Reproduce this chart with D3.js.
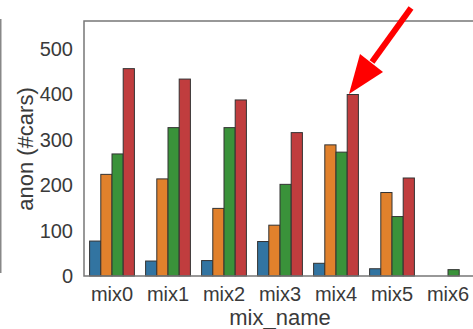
<!DOCTYPE html>
<html>
<head>
<meta charset="utf-8">
<script src="https://cdn.jsdelivr.net/npm/d3@7"></script>
<style>
  body { margin: 0; background: #fff; }
  svg { display: block; font-family: "Liberation Sans", Arial, sans-serif; }
</style>
</head>
<body>
<svg id="chart" width="473" height="329"></svg>
<script>
const mixNames = ["mix0", "mix1", "mix2", "mix3", "mix4", "mix5", "mix6"];
const series = ["s0", "s1", "s2", "s3"];
const s0 = [77, 33, 34, 76, 28, 16, 0];
const s1 = [224, 214, 149, 112, 289, 184, 0];
const s2 = [269, 327, 327, 202, 273, 131, 14];
const s3 = [457, 434, 388, 316, 400, 216, 0];
const yTicks = [0, 100, 200, 300, 400, 500];
const colors = ["#3274a1", "#e1812c", "#3a923a", "#c03d3e"];

const values = [s0, s1, s2, s3];
const rows = mixNames.flatMap((m, i) =>
  series.map((s, j) => ({ mix: m, series: s, value: values[j][i] }))
);

const svg = d3.select("#chart");
const mLeft = 84, mTop = 21, mBottom = 276, mRight = 476;

const xScale = d3.scaleBand()
  .domain(mixNames)
  .range([mLeft, mRight])
  .paddingInner(0)
  .paddingOuter(0);

const xInner = d3.scaleBand()
  .domain(series)
  .range([0, xScale.bandwidth() * 0.8]);

const yScale = d3.scaleLinear()
  .domain([0, 562])
  .range([mBottom, mTop]);

// stray line at far left from the cropped neighbour panel
svg.append("line")
  .attr("x1", 0.75).attr("x2", 0.75)
  .attr("y1", 19).attr("y2", 273)
  .attr("stroke", "#888")
  .attr("stroke-width", 1.5);

svg.append("g")
  .selectAll("rect")
  .data(rows)
  .join("rect")
  .attr("x", d => xScale(d.mix) + xScale.bandwidth() * 0.1 + xInner(d.series))
  .attr("y", d => yScale(d.value))
  .attr("width", xInner.bandwidth())
  .attr("height", d => mBottom - yScale(d.value))
  .attr("fill", d => colors[series.indexOf(d.series)])
  .attr("stroke", "#333")
  .attr("stroke-width", 1);

// spines
svg.append("path")
  .attr("d", `M${mRight},${mTop}H${mLeft}V${mBottom}H${mRight}`)
  .attr("fill", "none")
  .attr("stroke", "#777")
  .attr("stroke-width", 1.5);

const yAxis = svg.append("g")
  .attr("transform", `translate(${mLeft},0)`)
  .call(d3.axisLeft(yScale).tickValues(yTicks).tickSize(0).tickPadding(11));
yAxis.select(".domain").remove();
yAxis.selectAll("text")
  .attr("font-size", 20)
  .attr("font-family", "Liberation Sans, Arial, sans-serif")
  .attr("fill", "#3a3a3a");

const xAxis = svg.append("g")
  .attr("transform", `translate(0,${mBottom})`)
  .call(d3.axisBottom(xScale).tickSize(0).tickPadding(11));
xAxis.select(".domain").remove();
xAxis.selectAll("text")
  .attr("font-size", 20)
  .attr("font-family", "Liberation Sans, Arial, sans-serif")
  .attr("fill", "#3a3a3a");

svg.append("text")
  .attr("transform", "translate(33,149) rotate(-90)")
  .attr("text-anchor", "middle")
  .attr("font-size", 22)
  .attr("fill", "#3a3a3a")
  .text("anon (#cars)");

svg.append("text")
  .attr("x", 280)
  .attr("y", 325)
  .attr("text-anchor", "middle")
  .attr("font-size", 22)
  .attr("fill", "#3a3a3a")
  .text("mix_name");

// red annotation arrow
svg.append("line")
  .attr("x1", 411).attr("y1", 8)
  .attr("x2", 372).attr("y2", 62)
  .attr("stroke", "#ff0000")
  .attr("stroke-width", 6);
svg.append("polygon")
  .attr("points", "349,94 360,54 383,72")
  .attr("fill", "#ff0000");
</script>
</body>
</html>
